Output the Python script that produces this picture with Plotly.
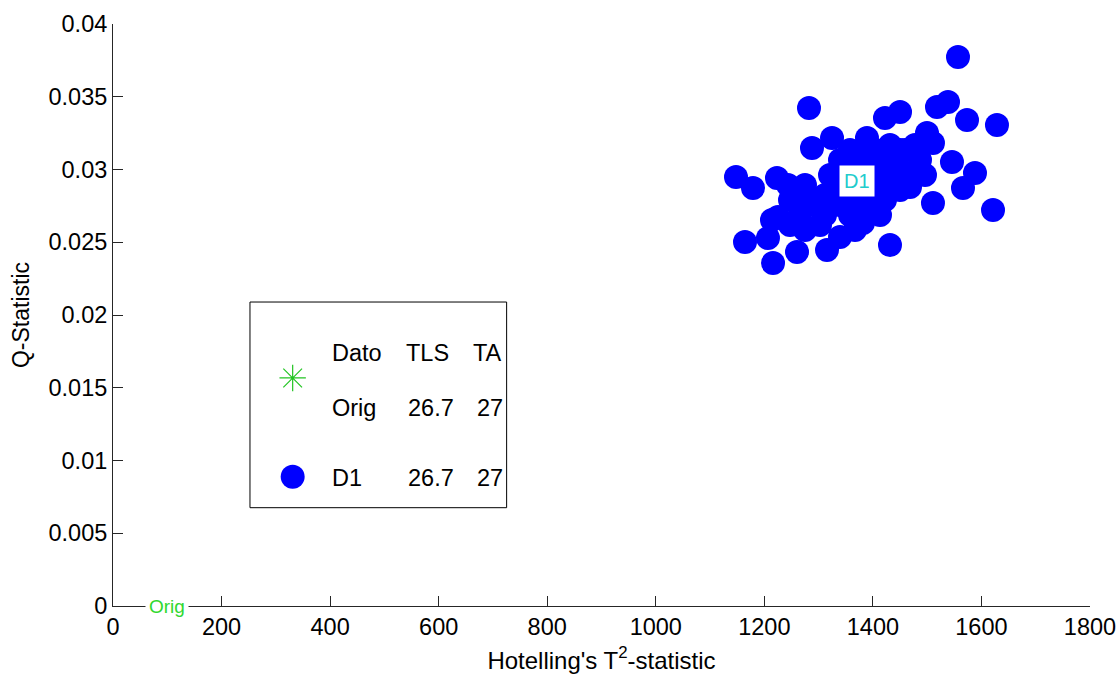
import plotly.graph_objects as go

# ---- data ----
d1_t2 = [1556.8, 1282.3, 1147.8, 1179.1, 1223.3, 1243.6, 1164.4, 1216.0, 1206.7, 1260.2,
         1315.5, 1287.8, 1324.7, 1431.5, 1510.7, 1621.3, 1588.1, 1566.0, 1545.7, 1628.6,
         1573.4, 1538.4, 1518.1, 1450.0, 1422.3, 1499.7, 1510.7, 1389.1, 1225.2, 1214.1,
         1284.1, 1339.4, 1381.8, 1468.4, 1473.9, 1444.4, 1450.0,
         1265.7, 1293.3, 1311.8, 1330.2, 1348.6, 1367.0, 1385.5, 1403.9, 1422.3, 1440.7,
         1459.2, 1477.6, 1311.8, 1339.4, 1357.8, 1376.2, 1394.7, 1413.1, 1431.5, 1450.0,
         1321.0, 1348.6, 1376.2, 1403.9, 1431.5, 1302.6, 1357.8, 1394.7, 1422.3, 1450.0,
         1274.9, 1367.0, 1413.1, 1486.8, 1496.0, 1357.8, 1339.4, 1247.3, 1247.3, 1274.9]
d1_q = [0.03773, 0.03423, 0.02948, 0.02873, 0.02942, 0.02893, 0.02502, 0.02357, 0.02529, 0.02433,
        0.02447, 0.03148, 0.03216, 0.02481, 0.02770, 0.02722, 0.02976, 0.02873, 0.03052, 0.03306,
        0.03340, 0.03464, 0.03430, 0.03395, 0.03354, 0.03251, 0.03182, 0.03216, 0.02674, 0.02653,
        0.02811, 0.02536, 0.02632, 0.02880, 0.02976, 0.03045, 0.03134,
        0.02687, 0.02756, 0.02825, 0.02859, 0.02893, 0.02942, 0.02983, 0.03031, 0.03065, 0.03100,
        0.03134, 0.03168, 0.02687, 0.02756, 0.02790, 0.02825, 0.02859, 0.02893, 0.02928, 0.02962,
        0.02962, 0.03031, 0.03065, 0.03134, 0.03168, 0.02619, 0.02687, 0.02722, 0.02790, 0.02859,
        0.02584, 0.02584, 0.02687, 0.03065, 0.02962, 0.03134, 0.03065, 0.02619, 0.02790, 0.02893]

orig_t2 = [99.5]
orig_q = [0.0]

d1_label_t2 = 1371
d1_label_q = 0.0292

x_ticks = [0, 200, 400, 600, 800, 1000, 1200, 1400, 1600, 1800]
y_ticks = [0, 0.005, 0.01, 0.015, 0.02, 0.025, 0.03, 0.035, 0.04]
y_tick_labels = ["0", "0.005", "0.01", "0.015", "0.02", "0.025", "0.03", "0.035", "0.04"]

legend_header = ["Dato", "TLS", "TA"]
legend_rows = [["Orig", "26.7", "27"], ["D1", "26.7", "27"]]

FONT = "Liberation Sans, Arial, sans-serif"
GREEN = "#22c422"
BLUE = "#0000ff"

fig = go.Figure()

fig.add_trace(go.Scatter(
    x=d1_t2, y=d1_q, mode="markers", name="D1",
    marker=dict(symbol="circle", size=24, color=BLUE, line=dict(width=0)),
    showlegend=False, cliponaxis=False))

fig.add_trace(go.Scatter(
    x=orig_t2, y=orig_q, mode="markers", name="Orig",
    marker=dict(symbol="asterisk-open", size=10, color=GREEN, line=dict(width=1, color=GREEN)),
    showlegend=False, cliponaxis=False))

# legend key markers on an overlay axis spanning [0,1] in both directions
fig.add_trace(go.Scatter(
    x=[0.1839], y=[0.3918], xaxis="x2", yaxis="y2", mode="markers",
    marker=dict(symbol="asterisk-open", size=22, color=GREEN, line=dict(width=1.2, color=GREEN)),
    showlegend=False, hoverinfo="skip"))
fig.add_trace(go.Scatter(
    x=[0.1839], y=[0.2222], xaxis="x2", yaxis="y2", mode="markers",
    marker=dict(symbol="circle", size=24, color=BLUE, line=dict(width=0)),
    showlegend=False, hoverinfo="skip"))

annotations = []
# data labels
annotations.append(dict(x=d1_label_t2, y=d1_label_q, xref="x", yref="y", text="D1",
                        showarrow=False, font=dict(family=FONT, size=20, color="#22cccc"),
                        bgcolor="white", borderpad=4))
annotations.append(dict(x=orig_t2[0], y=orig_q[0], xref="x", yref="y", text="Orig",
                        showarrow=False, font=dict(family=FONT, size=19, color="#2fd82f"),
                        bgcolor="white", borderpad=3))

# legend table text
LF = 23.5
col_x = [0.2221, 0.2979, 0.3661]
annotations += [dict(x=cx, y=0.4347, xref="paper", yref="paper", text=t, showarrow=False,
                     xanchor="left", yanchor="middle", font=dict(family=FONT, size=LF, color="black"))
                for cx, t in zip(col_x, legend_header)]
row_cols = [0.2221, 0.2995, 0.3710]
for ry, row in zip([0.3402, 0.2199], legend_rows):
    annotations += [dict(x=cx, y=ry, xref="paper", yref="paper", text=t, showarrow=False,
                         xanchor="left", yanchor="middle", font=dict(family=FONT, size=LF, color="black"))
                    for cx, t in zip(row_cols, row)]

fig.update_layout(
    width=1119, height=675,
    margin=dict(l=113, r=29, t=24, b=69),
    paper_bgcolor="white", plot_bgcolor="white",
    font=dict(family=FONT, size=23.5, color="black"),
    xaxis=dict(range=[0, 1800], tickvals=x_ticks, ticks="inside", ticklen=10, tickcolor="#262626",
               showline=True, linecolor="#262626", linewidth=1, showgrid=False, zeroline=False,
               automargin=False, tickfont=dict(size=23.5),
               title=dict(text="Hotelling's T<sup>2</sup>-statistic", font=dict(size=24), standoff=12)),
    yaxis=dict(range=[0, 0.04], tickvals=y_ticks, ticktext=y_tick_labels, ticks="inside", ticklen=10,
               tickcolor="#262626", showline=True, linecolor="#262626", linewidth=1, showgrid=False,
               zeroline=False, automargin=False, tickfont=dict(size=23.5),
               title=dict(text="Q-Statistic", font=dict(size=23), standoff=12)),
    xaxis2=dict(range=[0, 1], overlaying="x", visible=False, fixedrange=True),
    yaxis2=dict(range=[0, 1], overlaying="y", visible=False, fixedrange=True),
    shapes=[dict(type="rect", xref="paper", yref="paper", x0=0.1402, x1=0.4029, y0=0.1689, y1=0.5223,
                 line=dict(color="black", width=1), fillcolor="white", layer="below")],
    annotations=annotations,
    showlegend=False,
)

fig.write_html("out.html", config={"displayModeBar": False},
               post_script="document.body.style.margin='0';document.body.style.padding='0';")
